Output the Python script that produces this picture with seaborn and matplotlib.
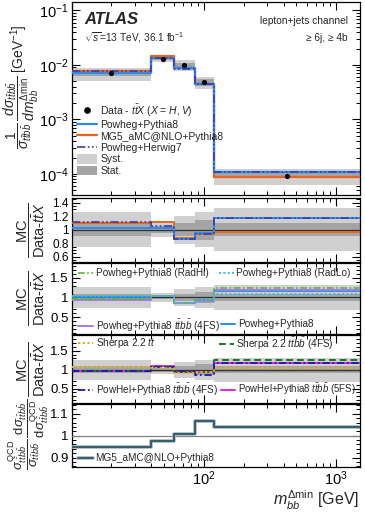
import numpy as np
import pandas as pd
import matplotlib
matplotlib.use('Agg')
import matplotlib.pyplot as plt
import seaborn as sns
from matplotlib.lines import Line2D
from matplotlib.patches import Patch
from matplotlib.ticker import LogLocator, FixedLocator, FuncFormatter, NullFormatter
import matplotlib.patheffects as pe

sns.set_theme(style='ticks')
plt.rcParams['font.family'] = ['Liberation Sans', 'DejaVu Sans']
plt.rcParams['mathtext.fontset'] = 'custom'
plt.rcParams['mathtext.rm'] = 'Liberation Sans'
plt.rcParams['mathtext.it'] = 'Liberation Sans:italic'
plt.rcParams['mathtext.bf'] = 'Liberation Sans:bold'
plt.rcParams['mathtext.sf'] = 'Liberation Sans'

# ---------------- data ----------------
bin_edges = [10, 40, 60, 85, 120, 1500]
data_xsec = [7.0e-3, 1.28e-2, 1.0e-2, 4.8e-3, 9.3e-5]
syst_rel = [0.26, 0.11, 0.21, 0.26, 0.32]
stat_rel = [0.10, 0.05, 0.10, 0.15, 0.10]

ratio_pp8 = [1.02, 1.03, 0.865, 0.945, 1.17]
ratio_mg5 = [1.105, 1.12, 0.87, 0.94, 0.965]
ratio_hw7 = [1.12, 1.05, 0.855, 0.94, 1.17]
ratio_radhi = [0.95, 1.03, 0.86, 0.93, 1.23]
ratio_radlo = [1.03, 1.03, 0.87, 0.93, 1.10]
ratio_pp8_4fs = [0.93, 1.05, 0.85, 0.92, 1.18]
ratio_sherpa_tt = [1.08, 1.05, 0.90, 0.93, 1.04]
ratio_sherpa_ttbb = [0.97, 1.08, 0.93, 0.93, 1.25]
ratio_powhel4 = [0.97, 1.08, 0.93, 0.87, 1.17]
ratio_powhel5 = [0.97, 1.10, 0.93, 0.93, 1.17]
ratio_qcd = [0.95, 0.977, 1.008, 1.068, 1.04]

edges = np.array(bin_edges, float)
centers = np.sqrt(edges[:-1] * edges[1:])
data = np.array(data_xsec)

C_PP8 = '#2a8cf0'
C_MG5 = '#e8641c'
C_HW7 = '#3c3ca8'
C_RADHI = '#5cb82e'
C_RADLO = '#34c4d0'
C_4FS = '#a678f0'
C_SHTT = '#e2b21e'
C_SHBB = '#17781a'
C_PH4 = '#1818b4'
C_PH5 = '#e024e0'
C_QCD = '#2f5f70'
C_SYST = '#d0d0d0'
C_STAT = '#a4a4a4'

LS_HW7 = (0, (5, 1.5, 1, 1.5, 1, 1.5))
LS_DASHDOT = (0, (4, 1.5, 1, 1.5))
LS_DOT = (0, (1.2, 1.2))
LS_DASH = (0, (3.5, 2))

W, H = 365, 514
fig = plt.figure(figsize=(W / 100, H / 100), dpi=100)

LEFT, RIGHT = 71.5, 359.5

def add_ax(top, bottom):
    return fig.add_axes([LEFT / W, 1 - bottom / H, (RIGHT - LEFT) / W, (bottom - top) / H])

ax0 = add_ax(2, 194.5)
ax1 = add_ax(198, 262)
ax2 = add_ax(263, 333.5)
ax3 = add_ax(334.5, 403)
ax4 = add_ax(403.5, 467)
axes = [ax0, ax1, ax2, ax3, ax4]


def step(ax, vals, color, ls='-', lw=1.4, z=5, **kw):
    y = list(vals) + [vals[-1]]
    df = pd.DataFrame({'x': edges, 'y': y})
    sns.lineplot(data=df, x='x', y='y', ax=ax, color=color, linestyle=ls, lw=lw,
                 drawstyle='steps-post', estimator=None, sort=False, zorder=z, legend=False, **kw)


def bands(ax, center):
    c = np.asarray(center)
    for rel, col in [(syst_rel, C_SYST), (stat_rel, C_STAT)]:
        r = np.asarray(rel)
        lo = list(c * (1 - r)); hi = list(c * (1 + r))
        ax.fill_between(edges, lo + [lo[-1]], hi + [hi[-1]], step='post', color=col, lw=0, zorder=1)


# ---- main panel ----
bands(ax0, data)
step(ax0, data * np.array(ratio_mg5), C_MG5, lw=1.6)
step(ax0, data * np.array(ratio_pp8), C_PP8, lw=1.6)
step(ax0, data * np.array(ratio_hw7), C_HW7, ls=LS_HW7, lw=1.2)
sns.scatterplot(x=centers, y=data, ax=ax0, color='black', s=14, zorder=10, edgecolor='black', linewidth=0)
ax0.set_yscale('log')
ax0.set_ylim(4.2e-5, 0.143)

# ---- ratio panels ----
one = np.ones(5)
for ax in [ax1, ax2, ax3]:
    bands(ax, one)
    step(ax, one, '#303030', lw=0.9, z=3)

step(ax1, ratio_mg5, C_MG5)
step(ax1, ratio_pp8, C_PP8)
step(ax1, ratio_hw7, C_HW7, ls=LS_HW7, lw=1.2)
ax1.set_ylim(0.52, 1.47)

step(ax2, ratio_pp8, C_PP8)
step(ax2, ratio_pp8_4fs, C_4FS)
step(ax2, ratio_radhi, C_RADHI, ls=LS_DASHDOT, lw=1.2)
step(ax2, ratio_radlo, C_RADLO, ls=LS_DOT, lw=1.3)
ax2.set_ylim(0.08, 1.88)

step(ax3, ratio_powhel5, C_PH5)
step(ax3, ratio_sherpa_ttbb, C_SHBB, ls=LS_DASH, lw=1.4)
step(ax3, ratio_powhel4, C_PH4, ls=LS_DASHDOT, lw=1.3)
step(ax3, ratio_sherpa_tt, C_SHTT, ls=LS_DOT, lw=1.4)
ax3.set_ylim(0.12, 1.93)

step(ax4, one, '#808080', lw=0.9, z=3)
step(ax4, ratio_qcd, C_QCD, lw=1.4,
     path_effects=[pe.Stroke(linewidth=2.6, foreground='#a8b4b8'), pe.Normal()])
ax4.set_ylim(0.857, 1.147)

# ---- axes styling ----
for ax in axes:
    ax.set_xscale('log')
    ax.set_xlim(10, 1500)
    ax.xaxis.set_major_locator(LogLocator(base=10))
    ax.xaxis.set_minor_locator(LogLocator(base=10, subs=np.arange(2, 10)))
    ax.tick_params(which='both', direction='in', top=True, right=True, colors='black')
    ax.tick_params(which='major', length=6, width=0.8)
    ax.tick_params(which='minor', length=3, width=0.7)
    for s in ax.spines.values():
        s.set_color('black'); s.set_linewidth(0.9)
    ax.set_xlabel('')
    ax.set_ylabel('')
    if ax is not ax4:
        ax.xaxis.set_major_formatter(NullFormatter())
    ax.xaxis.set_minor_formatter(NullFormatter())

ax0.yaxis.set_major_locator(LogLocator(base=10))
ax0.yaxis.set_minor_locator(LogLocator(base=10, subs=np.arange(2, 10)))
ax0.tick_params(axis='y', labelsize=10.5, pad=2)

fmt = FuncFormatter(lambda v, p: ('%g' % v))
ax1.yaxis.set_major_locator(FixedLocator([0.6, 0.8, 1.0, 1.2, 1.4]))
ax1.yaxis.set_minor_locator(FixedLocator(np.arange(0.55, 1.46, 0.05)))
ax1.yaxis.set_major_formatter(fmt)
ax1.tick_params(axis='y', labelsize=8.5, pad=2)
for ax in [ax2, ax3]:
    ax.yaxis.set_major_locator(FixedLocator([0.5, 1.0, 1.5]))
    ax.yaxis.set_minor_locator(FixedLocator(np.arange(0.1, 1.9, 0.1)))
    ax.yaxis.set_major_formatter(fmt)
    ax.tick_params(axis='y', labelsize=9.5, pad=2)
ax4.yaxis.set_major_locator(FixedLocator([0.9, 1.0, 1.1]))
ax4.yaxis.set_minor_locator(FixedLocator(np.arange(0.86, 1.15, 0.02)))
ax4.yaxis.set_major_formatter(fmt)
ax4.tick_params(axis='y', labelsize=9.5, pad=2)
ax4.tick_params(axis='x', labelsize=10.5, pad=2)
ax4.xaxis.set_major_formatter(FuncFormatter(
    lambda v, p: (r'$10^{%d}$' % round(np.log10(v))) if v >= 99 else ''))
ax4.set_xlabel(r'$m_{bb}^{\Delta\mathrm{min}}$ [GeV]', fontsize=11.5, loc='right', labelpad=0)

# ---- helpers for figure-pixel placement ----
def fx(px): return px / W
def fy(py): return 1 - py / H

renderer = fig.canvas.get_renderer()

def fit_label(s, x0, x1, y0, y1, size0, maxsize):
    t = fig.text(fx((x0 + x1) / 2), fy((y0 + y1) / 2), s, rotation=90,
                 ha='center', va='center', fontsize=size0)
    for _ in range(4):
        bb = t.get_window_extent(renderer)
        k = min((x1 - x0) / bb.width, (y1 - y0) / bb.height)
        t.set_fontsize(min(maxsize, t.get_fontsize() * k))
    return t

# ---- axis labels (as rotated texts) ----
ttbb = r't\bar{t}b\bar{b}'
fit_label(r'$\dfrac{1}{\sigma_{' + ttbb + r'}}\,\dfrac{d\sigma_{' + ttbb + r'}}{dm_{bb}^{\Delta\mathrm{min}}}$ [GeV$^{-1}$]',
          3, 39, 4, 170, 9, 12)
mc_lab = r'$\dfrac{\mathrm{MC}}{\mathrm{Data}\text{-}t\bar{t}X}$'
fit_label(mc_lab, 14, 48, 201, 259, 9, 10.5)
fit_label(mc_lab, 14, 48, 268, 328, 9, 10.5)
fit_label(mc_lab, 14, 48, 339, 399, 9, 10.5)
fit_label(r'$\dfrac{\sigma^{\mathrm{QCD}}_{' + ttbb + r'}}{\sigma_{' + ttbb + r'}}\,\dfrac{\mathrm{d}\sigma_{' + ttbb + r'}}{\mathrm{d}\sigma^{\mathrm{QCD}}_{' + ttbb + r'}}$',
          4, 53, 399, 470, 8, 10)

# ---- texts ----
fig.text(fx(84), fy(20), 'ATLAS', fontsize=12, fontweight='bold', fontstyle='italic', va='center', ha='left')
fig.text(fx(84), fy(38), r'$\sqrt{s}$=13 TeV, 36.1 fb$^{\mathregular{-1}}$', fontsize=7.3, va='center', ha='left')
fig.text(fx(348), fy(21), 'lepton+jets channel', fontsize=7.3, va='center', ha='right')
fig.text(fx(348), fy(38), '≥ 6j, ≥ 4b', fontsize=7.3, va='center', ha='right')

# ---- legends ----
main_handles = [
    Line2D([], [], marker='o', color='black', ls='none', ms=3.8),
    Line2D([], [], color=C_PP8, lw=1.6),
    Line2D([], [], color=C_MG5, lw=1.6),
    Line2D([], [], color=C_HW7, lw=1.2, ls=LS_HW7),
    Patch(facecolor=C_SYST, edgecolor='none'),
    Patch(facecolor=C_STAT, edgecolor='none'),
]
main_labels = [r'Data - $t\bar{t}X$ ($X$ = $H,V$)', 'Powheg+Pythia8', 'MG5_aMC@NLO+Pythia8',
               'Powheg+Herwig7', 'Syst.', 'Stat.']
fig.legend(main_handles, main_labels, loc='upper left', bbox_to_anchor=(fx(76.5), fy(102.5)),
           frameon=False, fontsize=7.5, borderpad=0, borderaxespad=0, handlelength=2.0,
           handleheight=1.0, handletextpad=0.3, labelspacing=0.12)


def entry(handle, label, x, y, size=7.2):
    fig.legend([handle], [label], loc='center left', bbox_to_anchor=(fx(x), fy(y)),
               frameon=False, fontsize=size, borderpad=0, borderaxespad=0, handlelength=1.45,
               handletextpad=0.3)

entry(Line2D([], [], color=C_RADHI, lw=1.2, ls=LS_DASHDOT), 'Powheg+Pythia8 (RadHi)', 78, 273)
entry(Line2D([], [], color=C_RADLO, lw=1.3, ls=LS_DOT), 'Powheg+Pythia8 (RadLo)', 219, 273)
entry(Line2D([], [], color=C_4FS, lw=1.4), r'Powheg+Pythia8 $' + ttbb + r'$ (4FS)', 78, 325)
entry(Line2D([], [], color=C_PP8, lw=1.4), 'Powheg+Pythia8', 221, 324)
entry(Line2D([], [], color=C_SHTT, lw=1.4, ls=LS_DOT), r'Sherpa 2.2 $t\bar{t}$', 78, 342)
entry(Line2D([], [], color=C_SHBB, lw=1.4, ls=LS_DASH), r'Sherpa 2.2 $' + ttbb + r'$ (4FS)', 219, 343)
entry(Line2D([], [], color=C_PH4, lw=1.3, ls=LS_DASHDOT), r'PowHel+Pythia8 $' + ttbb + r'$ (4FS)', 78, 389)
entry(Line2D([], [], color=C_PH5, lw=1.4), r'PowHel+Pythia8 $' + ttbb + r'$ (5FS)', 221, 389, size=6.9)
entry(Line2D([], [], color=C_QCD, lw=1.4,
             path_effects=[pe.Stroke(linewidth=2.6, foreground='#a8b4b8'), pe.Normal()]),
      'MG5_aMC@NLO+Pythia8', 78, 458)

fig.savefig('out.png', dpi=100)
